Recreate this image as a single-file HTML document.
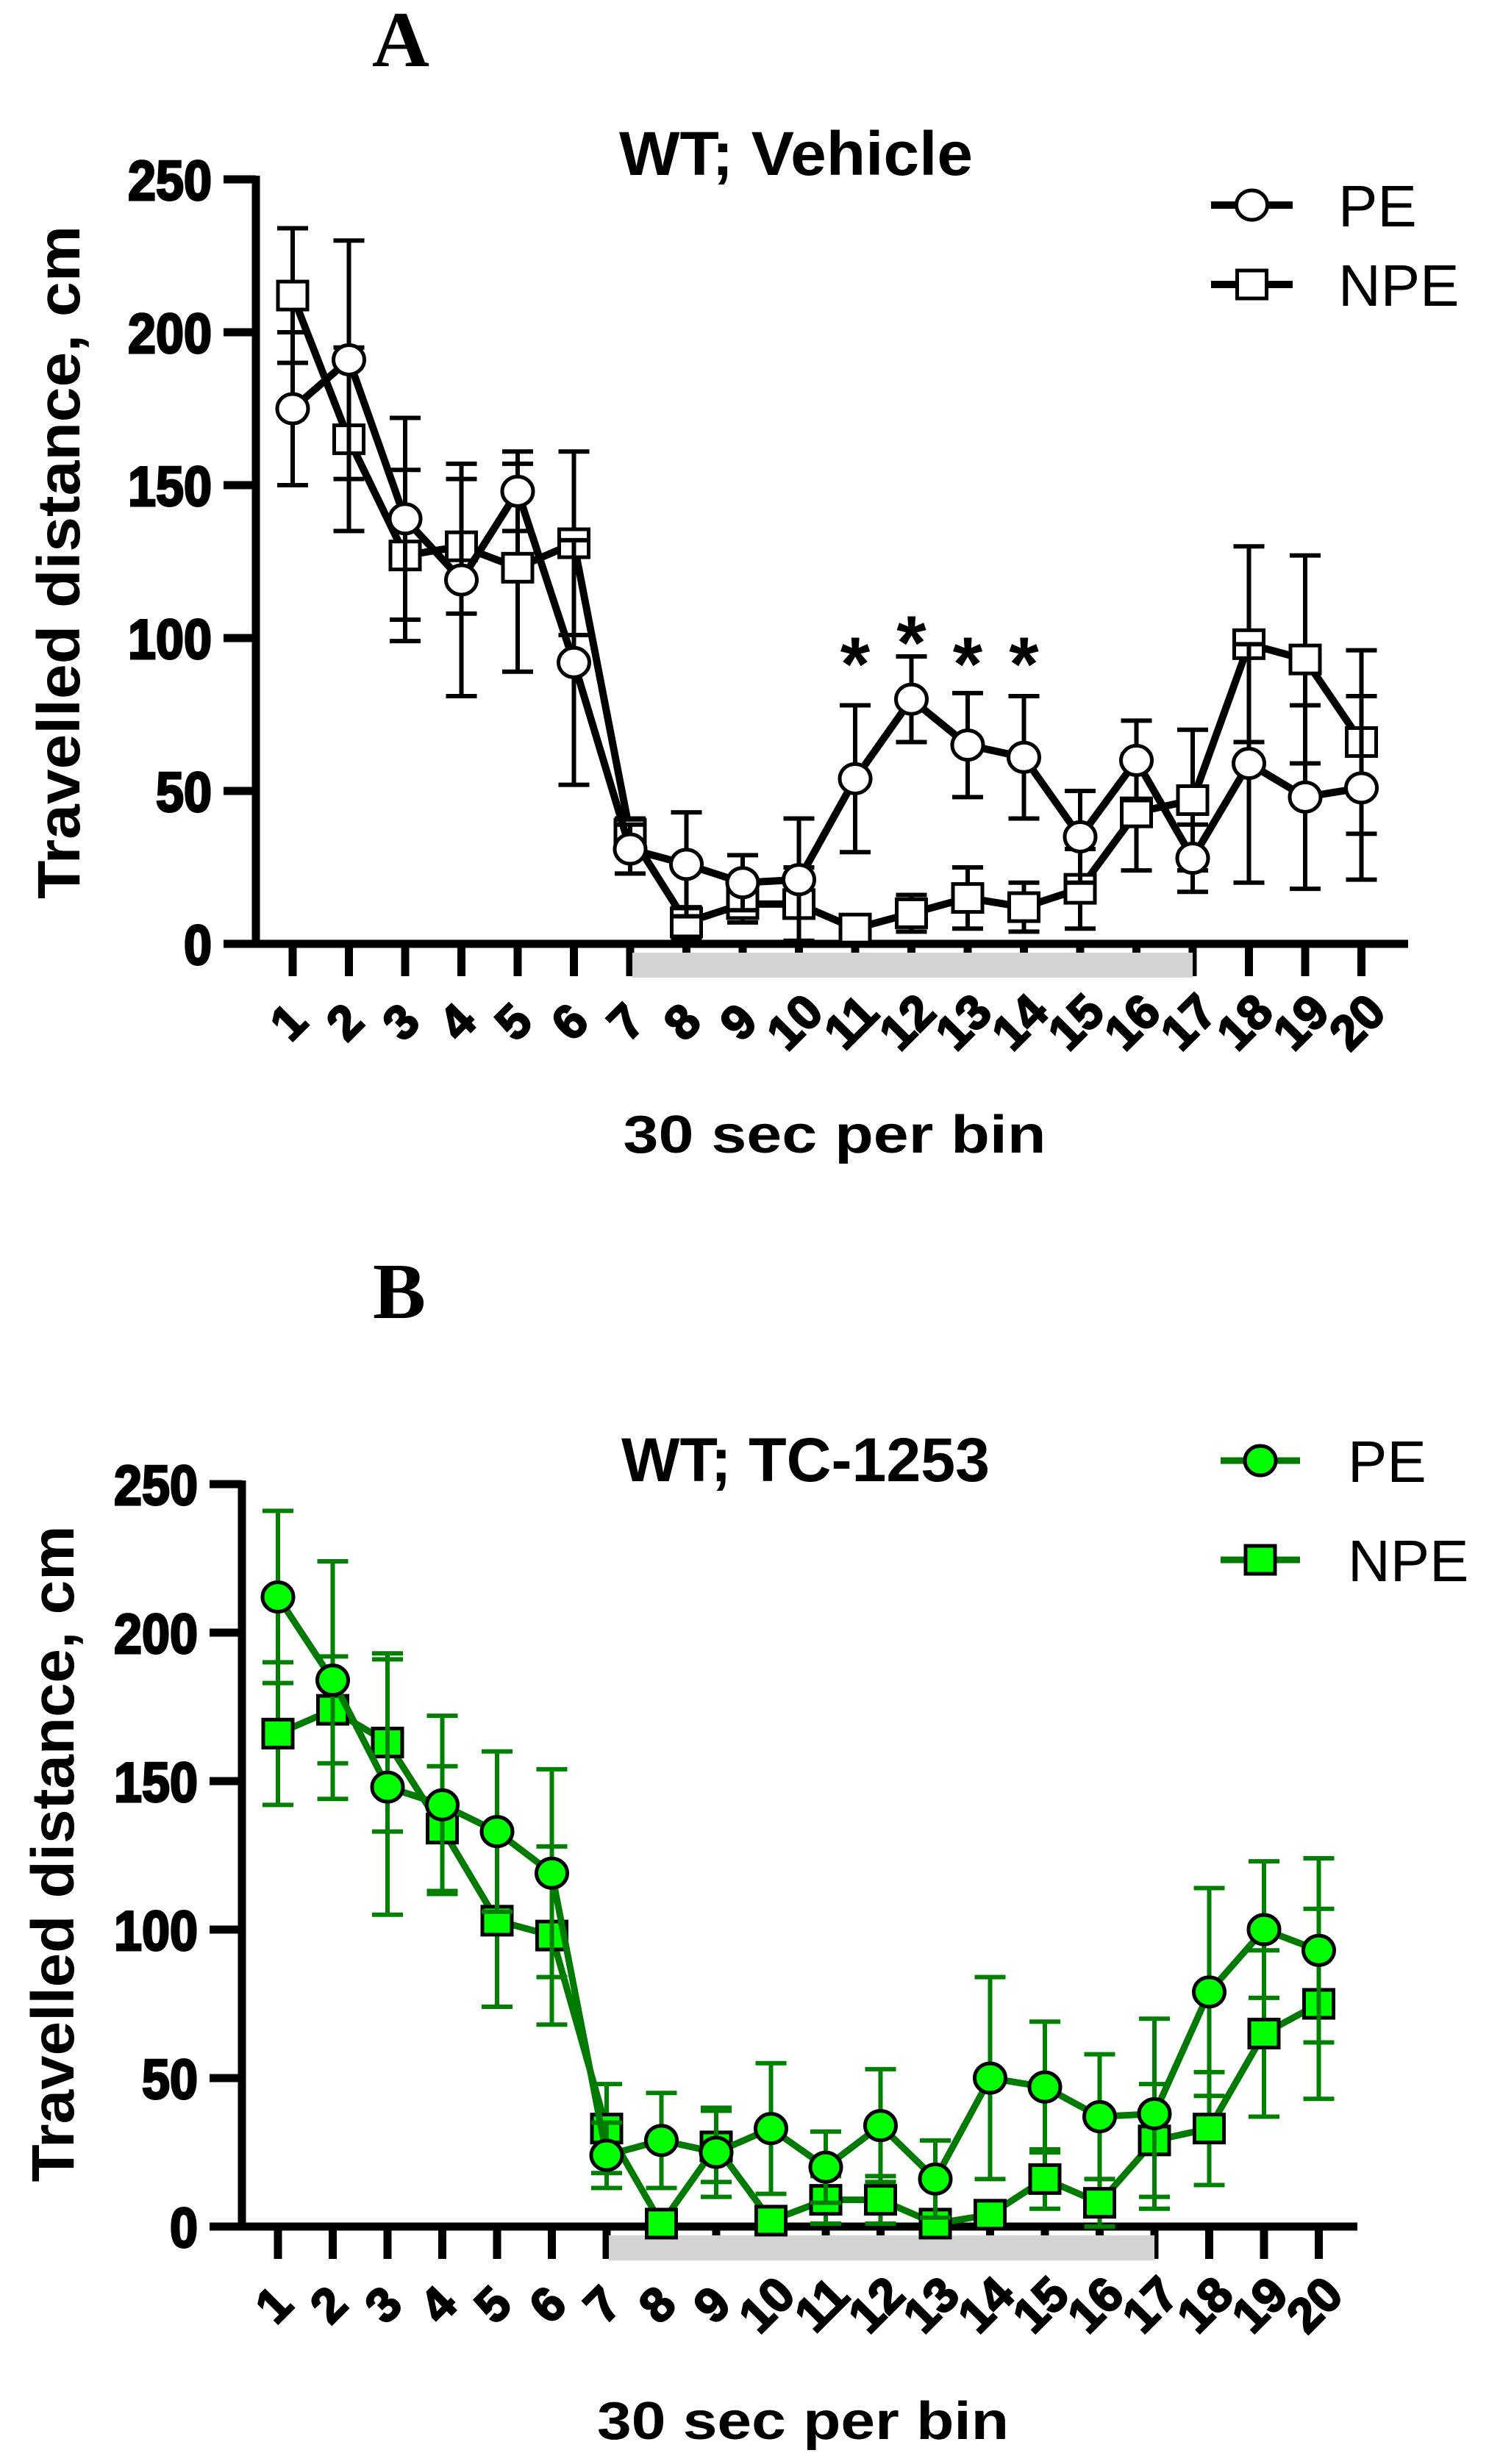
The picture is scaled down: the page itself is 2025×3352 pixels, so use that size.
<!DOCTYPE html>
<html><head><meta charset="utf-8"><style>
html,body{margin:0;padding:0;background:#fff;}
svg{display:block;}
text{font-family:"Liberation Sans",Arial,sans-serif;}
</style></head>
<body>
<svg id="fig" width="2025" height="3352" viewBox="0 0 2025 3352" xmlns="http://www.w3.org/2000/svg"></svg>
<script>
const bins = [1,2,3,4,5,6,7,8,9,10,11,12,13,14,15,16,17,18,19,20];
const yTicks = [0,50,100,150,200,250];
// Panel A (WT; Vehicle)
const aPE      = [175,191,139,119,148,92,31,26,20,21,54,80,65,61,35,60,28,59,48,51];
const aPEerr   = [25,39,33,38,13,40,8,17,9,20,24,14,17,20,15,13,11,39,30,30];
const aNPE     = [212,165,127,130,123,131,36,7,13,13,5,10,15,12,18,43,47,98,93,66];
const aNPEerr  = [22,30,28,22,34,30,5,5,6,12,3,6,10,8,13,19,23,32,34,30];
const aStars   = [11,12,13,14];
// Panel B (WT; TC-1253)
const bPE      = [212,184,148,142,133,119,24,29,25,33,20,34,16,50,47,37,38,79,100,93];
const bPEerr   = [29,40,43,30,27,35,11,16,15,22,12,19,13,34,22,21,32,35,23,31];
const bNPE     = [166,174,163,134,103,98,33,1,27,2,9,9,1,4,16,8,29,33,65,75];
const bNPEerr  = [24,18,30,21,29,30,15,3,12,2,8,8,2,3,10,8,19,19,28,32];

const NS='http://www.w3.org/2000/svg';
const svg=document.getElementById('fig');
function el(tag,attrs,parent,txt){const e=document.createElementNS(NS,tag);for(const k in attrs)e.setAttribute(k,attrs[k]);if(txt!==undefined)e.textContent=txt;(parent||svg).appendChild(e);return e;}

function panel(cfg){
  const g=el('g',{});
  
  
  const X=i=>cfg.x1+(i-1)*cfg.dx;
  const Y=v=>cfg.y0-(v/250)*(cfg.y0-cfg.y250);
  const L=el('text',{x:cfg.letterX,y:cfg.letterY,'text-anchor':'middle','font-size':108,'font-weight':'bold',style:'font-family:"Liberation Serif",serif'},g,cfg.letter);
  
  
  const T=el('text',{x:cfg.titleX,y:cfg.titleY,'font-size':84,'font-weight':'bold',textLength:cfg.titleW,lengthAdjust:'spacingAndGlyphs'},g,cfg.title);
  
  
  const ax=el('line',{x1:cfg.ax,y1:cfg.y250-5,x2:cfg.ax,y2:cfg.y0+5,stroke:'#000','stroke-width':11},g);
  
  
  yTicks.forEach(v=>{
    const t=el('line',{x1:cfg.ax-44,y1:Y(v),x2:cfg.ax,y2:Y(v),stroke:'#000','stroke-width':11},g);
    
    
    const s=String(v);
    const lb=el('text',{x:cfg.ax-60,y:Y(v)+28,'text-anchor':'end','font-size':76,'font-weight':'bold',stroke:'#000','stroke-width':3,textLength:s.length*38,lengthAdjust:'spacingAndGlyphs'},g,s);
    
    
  });
  const yt=el('text',{x:0,y:0,'text-anchor':'middle','font-size':82,'font-weight':'bold',textLength:cfg.ytLen,lengthAdjust:'spacingAndGlyphs',transform:`translate(${cfg.ytX},${cfg.ytY}) rotate(-90)`},g,'Travelled distance, cm');
  
  
  const xa=el('line',{x1:cfg.ax-5,y1:cfg.y0,x2:cfg.axEnd,y2:cfg.y0,stroke:'#000','stroke-width':11},g);
  
  
  bins.forEach(b=>{
    const t=el('line',{x1:X(b),y1:cfg.y0,x2:X(b),y2:cfg.y0+44,stroke:'#000','stroke-width':11},g);
    
    
    const lb=el('text',{x:0,y:0,'text-anchor':'middle','dominant-baseline':'central','font-size':66,'font-weight':'bold',stroke:'#000','stroke-width':2.5,transform:`translate(${X(b)-6},${cfg.y0+106}) rotate(-45)`},g,String(b));
    
    
  });
  const gb=el('rect',{x:X(7)+3,y:cfg.y0+12,width:X(17)-X(7)-3,height:34,fill:'#d3d3d3'},g);
  
  
  const xt=el('text',{x:cfg.xtX,y:cfg.xtY,'text-anchor':'middle','font-size':72,'font-weight':'bold',textLength:cfg.xtW,lengthAdjust:'spacingAndGlyphs'},g,'30 sec per bin');
  
  
  const series=[
    {vals:cfg.npe,err:cfg.npeErr,shape:'square',name:'npe'},
    {vals:cfg.pe,err:cfg.peErr,shape:'circle',name:'pe'}
  ];
  series.forEach(s=>{
    const sg=el('g',{},g);
    
    
    s.vals.forEach((v,i)=>{
      const x=X(bins[i]);
      const e=el('path',{d:`M${x-21},${Y(v+s.err[i])}H${x+21}M${x},${Y(v+s.err[i])}V${Y(Math.max(0,v-s.err[i]))}M${x-21},${Y(Math.max(0,v-s.err[i]))}H${x+21}`,stroke:cfg.errColor,'stroke-width':6,fill:'none'},sg);
      
      
    });
    const pl=el('polyline',{points:s.vals.map((v,i)=>X(bins[i])+','+Y(v)).join(' '),fill:'none',stroke:cfg.lineColor,'stroke-width':cfg.lineW,'stroke-linejoin':'round'},sg);
    
    
    s.vals.forEach((v,i)=>{
      const x=X(bins[i]),y=Y(v);
      let m;
      if(s.shape==='circle') m=el('ellipse',{cx:x,cy:y,rx:21,ry:20,fill:cfg.fill,stroke:'#000','stroke-width':5},sg);
      else m=el('rect',{x:x-20,y:y-19,width:40,height:38,fill:cfg.fill,stroke:'#000','stroke-width':5},sg);
      
      
    });
  });
  if(cfg.stars){
    cfg.stars.forEach(b=>{
      const i=b-1;
      const top=Math.max(93,cfg.pe[i]+cfg.peErr[i]+6);
      const st=el('text',{x:X(b),y:Y(top)+42,'text-anchor':'middle','font-size':104,'font-weight':'bold'},g,'*');
      
      
    });
  }
  const lg=el('g',{},g);
  
  
  [['PE','circle',cfg.legY1],['NPE','square',cfg.legY2]].forEach(([lab,shape,y])=>{
    const eg=el('g',{},lg);
    
    
    el('line',{x1:cfg.legX1,y1:y,x2:cfg.legX2,y2:y,stroke:cfg.lineColor,'stroke-width':cfg.lineW},eg);
    const cx=(cfg.legX1+cfg.legX2)/2;
    if(shape==='circle') el('ellipse',{cx:cx,cy:y,rx:21,ry:20,fill:cfg.fill,stroke:'#000','stroke-width':5},eg);
    else el('rect',{x:cx-20,y:y-19,width:40,height:38,fill:cfg.fill,stroke:'#000','stroke-width':5},eg);
    el('text',{x:cfg.legTX,y:y+29,'font-size':80},eg,lab);
  });
}

panel({name:'panel-a',letter:'A',letterX:545,letterY:90,title:'WT; Vehicle',titleX:842,titleY:238,titleW:481,
  ax:348,y0:1284,y250:244,x1:398,dx:76.5,axEnd:1915,
  ytX:108,ytY:765,ytLen:916,xtX:1135,xtY:1568,xtW:575,
  pe:aPE,peErr:aPEerr,npe:aNPE,npeErr:aNPEerr,stars:aStars,
  lineColor:'#000',errColor:'#000',fill:'#fff',lineW:10,
  legX1:1647,legX2:1758,legY1:279,legY2:387,legTX:1820});

panel({name:'panel-b',letter:'B',letterX:543,letterY:1793,title:'WT; TC-1253',titleX:845,titleY:2015,titleW:501,
  ax:329,y0:3029,y250:2019,x1:378,dx:74.5,axEnd:1846,
  ytX:100,ytY:2522,ytLen:893,xtX:1092,xtY:3318,xtW:560,
  pe:bPE,peErr:bPEerr,npe:bNPE,npeErr:bNPEerr,stars:null,
  lineColor:'#007a00',errColor:'#008000',fill:'#00ff00',lineW:9,
  legX1:1660,legX2:1768,legY1:1987,legY2:2122,legTX:1833});
</script>
</body></html>
